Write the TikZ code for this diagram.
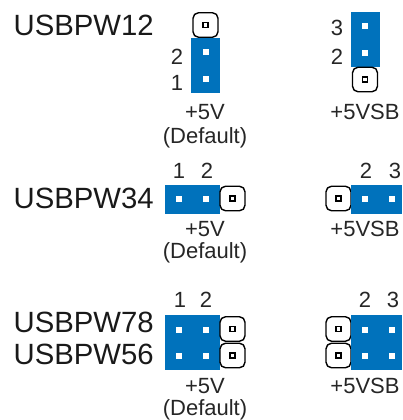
\documentclass[tikz,border=0pt]{standalone}
\usepackage{fontspec}
\setmainfont{Liberation Sans}
\definecolor{jblue}{RGB}{0,114,188}
\tikzset{
  lab/.style={inner sep=0pt,anchor=base,font=\fontsize{22}{24}\selectfont,text=black!85},
  bigtitle/.style={inner sep=0pt,anchor=base west,font=\fontsize{29.3}{32}\selectfont,text=black!90},
  captext/.style={lab},
  pinw/.style={fill=white,draw=none,minimum size=6pt,inner sep=0pt,rectangle},
  hole/.style={fill=white,draw=black,line width=1.7pt,minimum size=5pt,inner sep=0pt,rectangle},
  openpin/.style={draw=black,line width=1.4pt,rounded corners=5.5pt,fill=white,minimum width=25pt,minimum height=24.5pt,inner sep=0pt,rectangle},
}
\begin{document}
\begin{tikzpicture}[x=1pt,y=-1pt]
\useasboundingbox (0,0) rectangle (402,420);
\clip (0,0) rectangle (402,420);
% Section 1
\node[bigtitle] (t1) at (13.5,36) {USBPW12};
\node[openpin] (a1) at (205.5,25) {};
\node[hole] (a1h) at (a1) {};
\fill[jblue] (191,38) rectangle (219.5,92.5);
\node[pinw] (a2) at (205.5,52) {};
\node[pinw] (a3) at (205.5,78.5) {};
\node[lab] (a2l) at (177,65) {2};
\node[lab] (a1l) at (177,90.5) {1};
\node[captext] (ac) at (205,119) {+5V};
\node[captext] (ad) at (205,143) {(Default)};
\fill[jblue] (351,12) rectangle (379.5,67);
\node[pinw] (b1) at (365,26.5) {};
\node[pinw] (b2) at (365,53) {};
\node[openpin] (b3) at (365,79.5) {};
\node[hole] (b3h) at (b3) {};
\node[lab] (b3l) at (337,36) {3};
\node[lab] (b2l) at (337,65) {2};
\node[captext] (bc) at (365,119) {+5VSB};
% Section 2
\node[bigtitle] (t2) at (13.5,208) {USBPW34};
\fill[jblue] (165,185) rectangle (220,213.5);
\node[pinw] (c1) at (179,198.5) {};
\node[pinw] (c2) at (205.5,198.5) {};
\node[openpin] (c3) at (232.5,198.5) {};
\node[hole] (c3h) at (c3) {};
\node[lab] (c1l) at (179,178) {1};
\node[lab] (c2l) at (207,178) {2};
\node[captext] (cc) at (205,236) {+5V};
\node[captext] (cd) at (205,258) {(Default)};
\node[openpin] (d1) at (338.5,198.5) {};
\node[hole] (d1h) at (d1) {};
\fill[jblue] (351,185) rectangle (402,213.5);
\node[pinw] (d2) at (365,198.5) {};
\node[pinw] (d3) at (391.5,198.5) {};
\node[lab] (d2l) at (366,178) {2};
\node[lab] (d3l) at (395,178) {3};
\node[captext] (dc) at (365,236) {+5VSB};
% Section 3
\node[bigtitle] (t3) at (13.5,332.5) {USBPW78};
\node[bigtitle] (t4) at (13.5,364) {USBPW56};
\fill[jblue] (165,315) rectangle (220,370);
\node[pinw] (e1) at (179,329.5) {};
\node[pinw] (e2) at (205.5,329.5) {};
\node[pinw] (e3) at (179,355.5) {};
\node[pinw] (e4) at (205.5,355.5) {};
\node[openpin] (e5) at (232.5,329) {};
\node[hole] (e5h) at (e5) {};
\node[openpin] (e6) at (232.5,355.5) {};
\node[hole] (e6h) at (e6) {};
\node[lab] (e1l) at (180,307) {1};
\node[lab] (e2l) at (206,307) {2};
\node[captext] (ec) at (205,393) {+5V};
\node[captext] (ed) at (205,415) {(Default)};
\node[openpin] (f1) at (338.5,329) {};
\node[hole] (f1h) at (f1) {};
\node[openpin] (f2) at (338.5,355.5) {};
\node[hole] (f2h) at (f2) {};
\fill[jblue] (351,315) rectangle (402,370);
\node[pinw] (f3) at (365,329.5) {};
\node[pinw] (f4) at (391.5,329.5) {};
\node[pinw] (f5) at (365,355.5) {};
\node[pinw] (f6) at (391.5,355.5) {};
\node[lab] (f3l) at (365,307) {2};
\node[lab] (f4l) at (393,307) {3};
\node[captext] (fc) at (365,393) {+5VSB};
\end{tikzpicture}
\end{document}
